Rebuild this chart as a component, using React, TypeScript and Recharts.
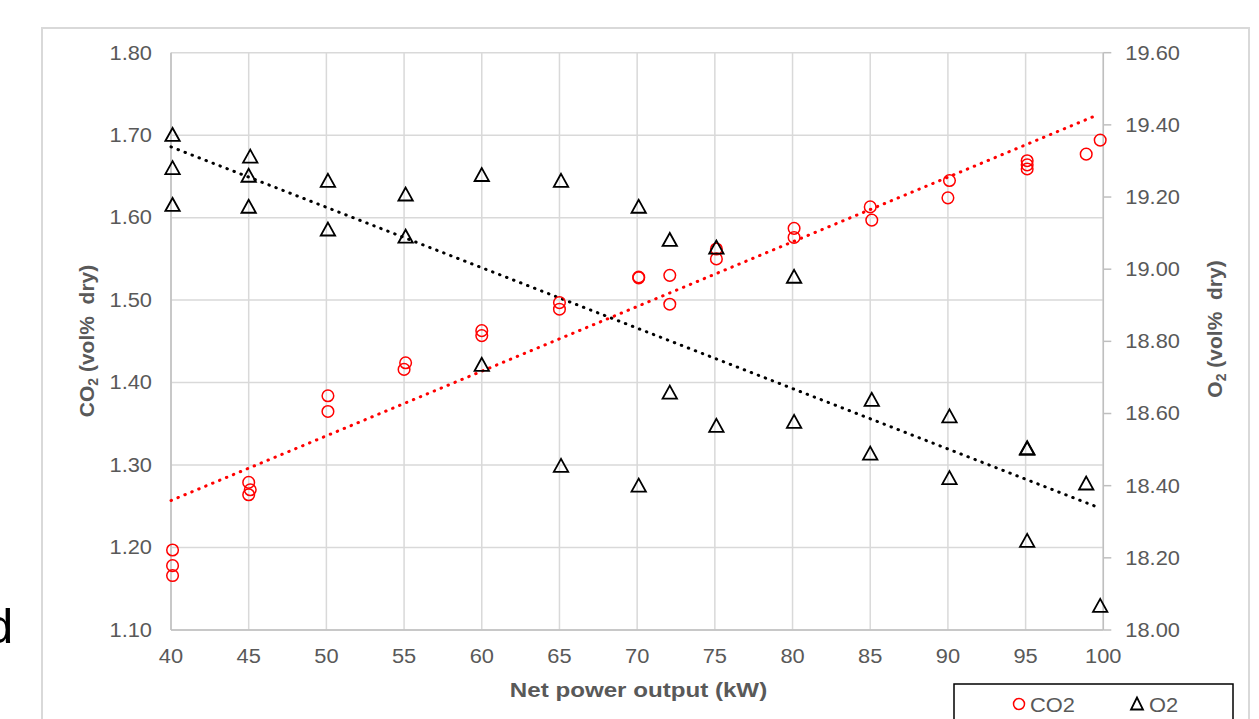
import React from "react";
import { ScatterChart, Scatter, XAxis, YAxis, CartesianGrid } from "recharts";

// ---- data ----
const xTicks = [40, 45, 50, 55, 60, 65, 70, 75, 80, 85, 90, 95, 100];
const leftTicks = [1.1, 1.2, 1.3, 1.4, 1.5, 1.6, 1.7, 1.8];
const rightTicks = [18.0, 18.2, 18.4, 18.6, 18.8, 19.0, 19.2, 19.4, 19.6];

const co2X = [40.1, 40.1, 40.1, 45.0, 45.1, 45.0, 50.1, 50.1, 55.1, 55.0, 60.0, 60.0, 65.0, 65.0, 70.1, 70.1, 72.1, 72.1, 75.1, 75.1, 80.1, 80.1, 85.0, 85.1, 90.1, 90.0, 95.1, 95.1, 95.1, 98.9, 99.8];
const co2Y = [1.197, 1.178, 1.166, 1.279, 1.270, 1.264, 1.384, 1.365, 1.424, 1.416, 1.463, 1.457, 1.497, 1.489, 1.528, 1.527, 1.530, 1.495, 1.550, 1.562, 1.587, 1.576, 1.613, 1.597, 1.645, 1.624, 1.669, 1.664, 1.659, 1.677, 1.694];

const o2X = [40.1, 40.1, 40.1, 45.1, 45.0, 45.0, 50.1, 50.1, 55.1, 55.1, 60.0, 60.0, 65.1, 65.1, 70.1, 70.1, 72.1, 72.1, 75.1, 75.1, 80.1, 80.1, 85.1, 85.0, 90.1, 90.1, 95.1, 95.1, 95.1, 98.9, 99.8];
const o2Y = [19.372, 19.280, 19.178, 19.312, 19.259, 19.173, 19.245, 19.110, 19.207, 19.090, 19.261, 18.735, 19.245, 18.455, 19.173, 18.400, 19.081, 18.658, 19.060, 18.566, 18.979, 18.577, 18.638, 18.489, 18.592, 18.421, 18.504, 18.502, 18.247, 18.406, 18.067];

const co2TrendX = [40, 99.3];
const co2TrendY = [1.257, 1.722];
const o2TrendX = [40, 99.6];
const o2TrendY = [19.339, 18.341];

const co2Data = co2X.map((x, i) => ({ x, y: co2Y[i] }));
const o2Data = o2X.map((x, i) => ({ x, y: o2Y[i] }));
const co2Trend = co2TrendX.map((x, i) => ({ x, y: co2TrendY[i] }));
const o2Trend = o2TrendX.map((x, i) => ({ x, y: o2TrendY[i] }));

const FONT = "'Liberation Sans', Arial, sans-serif";
const GREY = "#595959";
const SX = 1.12;

const XTick = (p: any) => (
  <g transform={`translate(${p.x},${p.y})`}>
    <text transform={`scale(${SX},1)`} textAnchor="middle" dy="0.71em" fill={GREY} fontSize={19.5} fontFamily={FONT}>
      {p.payload.value}
    </text>
  </g>
);
const LTick = (p: any) => (
  <g transform={`translate(${p.x},${p.y})`}>
    <text transform={`scale(${SX},1)`} textAnchor="end" dy="0.35em" fill={GREY} fontSize={19.5} fontFamily={FONT}>
      {Number(p.payload.value).toFixed(2)}
    </text>
  </g>
);
const RTick = (p: any) => (
  <g transform={`translate(${p.x},${p.y})`}>
    <text transform={`scale(${SX},1)`} textAnchor="start" dy="0.35em" fill={GREY} fontSize={19.5} fontFamily={FONT}>
      {Number(p.payload.value).toFixed(2)}
    </text>
  </g>
);

const CircleShape = (p: any) => (
  <circle cx={p.cx} cy={p.cy} r={5.8} fill="none" stroke="#ff0000" strokeWidth={1.5} />
);
const TriShape = (p: any) => (
  <polygon
    points={`${p.cx},${p.cy - 7} ${p.cx - 7.2},${p.cy + 6} ${p.cx + 7.2},${p.cy + 6}`}
    fill="none"
    stroke="#000"
    strokeWidth={1.8}
    strokeLinejoin="miter"
  />
);
const NoShape = () => <g />;

export default function App() {
  return (
    <div style={{ position: "absolute", left: 0, top: 0, width: 1259, height: 719, overflow: "hidden", background: "#fff" }}>
      <div style={{ position: "absolute", left: 41, top: 27, width: 1205, height: 740, border: "2px solid #d9d9d9" }} />
      <div style={{ position: "absolute", left: 0, top: 0 }}>
        <ScatterChart width={1259} height={719} margin={{ top: 52.7, right: 55.7, bottom: 49, left: 91 }}>
          <CartesianGrid yAxisId="left" stroke="#d9d9d9" strokeWidth={1.5} />
          <XAxis
            type="number"
            dataKey="x"
            domain={[40, 100]}
            ticks={xTicks}
            height={40}
            tickLine={false}
            tickSize={6}
            tickMargin={13}
            axisLine={{ stroke: "#bfbfbf", strokeWidth: 1.5 }}
            tick={XTick}
            interval={0}
          />
          <YAxis
            yAxisId="left"
            type="number"
            dataKey="y"
            domain={[1.1, 1.8]}
            ticks={leftTicks}
            width={80}
            tickLine={false}
            tickSize={6}
            tickMargin={13}
            axisLine={{ stroke: "#bfbfbf", strokeWidth: 1.5 }}
            tick={LTick}
            interval={0}
            allowDataOverflow
          />
          <YAxis
            yAxisId="right"
            orientation="right"
            type="number"
            dataKey="y"
            domain={[18, 19.6]}
            ticks={rightTicks}
            width={100}
            tickLine={{ stroke: "#bfbfbf", strokeWidth: 1.5 }}
            tickSize={8}
            tickMargin={14}
            axisLine={{ stroke: "#bfbfbf", strokeWidth: 1.5 }}
            tick={RTick}
            interval={0}
            allowDataOverflow
          />
          <Scatter
            yAxisId="left"
            data={co2Trend}
            shape={NoShape}
            line={{ stroke: "#ff0000", strokeWidth: 3, strokeDasharray: "0.5 7", strokeLinecap: "round", fill: "none" }}
            isAnimationActive={false}
          />
          <Scatter
            yAxisId="right"
            data={o2Trend}
            shape={NoShape}
            line={{ stroke: "#000000", strokeWidth: 3, strokeDasharray: "0.5 7", strokeLinecap: "round", fill: "none" }}
            isAnimationActive={false}
          />
          <Scatter yAxisId="left" data={co2Data} shape={CircleShape} isAnimationActive={false} />
          <Scatter yAxisId="right" data={o2Data} shape={TriShape} isAnimationActive={false} />
        </ScatterChart>
      </div>
      <svg width={1259} height={719} style={{ position: "absolute", left: 0, top: 0, pointerEvents: "none" }}>
        <text x={-14} y={643} fontSize={49} fontFamily={FONT} fill="#000">d</text>
        <text transform="translate(93.5,341) rotate(-90)" textAnchor="middle" fontSize={21} fontWeight="bold" fontFamily={FONT} fill={GREY}>
          CO<tspan fontSize={14} dy={4}>2</tspan><tspan dy={-4}>{"\u00a0(vol%\u00a0\u00a0dry)"}</tspan>
        </text>
        <text transform="translate(1221.5,329) rotate(-90)" textAnchor="middle" fontSize={21} fontWeight="bold" fontFamily={FONT} fill={GREY}>
          O<tspan fontSize={14} dy={4}>2</tspan><tspan dy={-4}>{"\u00a0(vol%\u00a0\u00a0dry)"}</tspan>
        </text>
        <g transform="translate(638.5,697)">
          <text transform={`scale(1.15,1)`} textAnchor="middle" fontSize={21} fontWeight="bold" fontFamily={FONT} fill={GREY}>
            Net power output (kW)
          </text>
        </g>
        <rect x={954} y={684} width={279} height={60} fill="#fff" stroke="#000" strokeWidth={1.5} />
        <circle cx={1019} cy={704} r={5.5} fill="none" stroke="#ff0000" strokeWidth={1.5} />
        <g transform="translate(1030,711.5)">
          <text transform={`scale(${SX},1)`} fontSize={19.5} fontFamily={FONT} fill={GREY}>CO2</text>
        </g>
        <polygon points="1137,697.5 1131,709.5 1143,709.5" fill="none" stroke="#000" strokeWidth={1.8} />
        <g transform="translate(1149,711.5)">
          <text transform={`scale(${SX},1)`} fontSize={19.5} fontFamily={FONT} fill={GREY}>O2</text>
        </g>
      </svg>
    </div>
  );
}
